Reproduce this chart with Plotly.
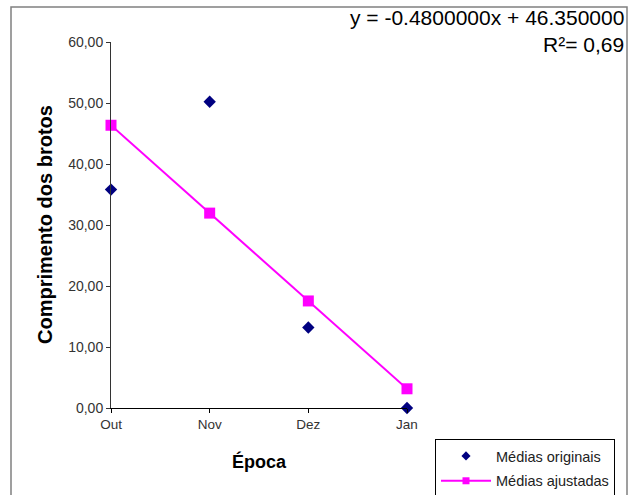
import plotly.graph_objects as go

categories = ["Out", "Nov", "Dez", "Jan"]
medias_originais = [35.8, 50.2, 13.2, 0.0]
medias_ajustadas = [46.35, 31.95, 17.55, 3.15]
y_ticks = [0, 10, 20, 30, 40, 50, 60]
equation_text = "y = -0.4800000x + 46.350000"
r2_text = "R²= 0,69"

W, H = 637, 495
L, R, T, B = 111, 230, 42, 87
pw, ph = W - L - R, H - T - B

def px(x):
    return (x - L) / pw

def py(y):
    return (H - B - y) / ph

FONT = "Liberation Sans, Arial, sans-serif"
NAVY = "#000080"
MAGENTA = "#FF00FF"

fig = go.Figure()
fig.add_trace(go.Scatter(
    x=categories, y=medias_originais, mode="markers", name="Médias originais",
    marker=dict(symbol="diamond", size=9.5, color=NAVY),
    cliponaxis=False, showlegend=False,
))
fig.add_trace(go.Scatter(
    x=categories, y=medias_ajustadas, mode="lines+markers", name="Médias ajustadas",
    marker=dict(symbol="square", size=11, color=MAGENTA),
    line=dict(color=MAGENTA, width=2),
    cliponaxis=False, showlegend=False,
))
# legend entries (smaller legend symbols as in the reference)
fig.add_trace(go.Scatter(
    x=[None], y=[None], mode="markers", name="Médias originais",
    marker=dict(symbol="diamond", size=7, color=NAVY), legendgroup="a",
))
fig.add_trace(go.Scatter(
    x=[None], y=[None], mode="lines+markers", name="Médias ajustadas",
    marker=dict(symbol="square", size=7, color=MAGENTA),
    line=dict(color=MAGENTA, width=2), legendgroup="b",
))

fig.update_layout(
    width=W, height=H,
    margin=dict(l=L, r=R, t=T, b=B, autoexpand=False),
    paper_bgcolor="white", plot_bgcolor="white",
    separators=",.",
    font=dict(family=FONT, color="#333333", size=13),
    showlegend=True,
    legend=dict(
        x=px(435), y=py(439), xanchor="left", yanchor="top",
        bordercolor="black", borderwidth=1, bgcolor="white",
        font=dict(size=14.5, color="#222222", family=FONT),
        itemwidth=50, traceorder="grouped", tracegroupgap=3,
        itemsizing="trace",
    ),
    xaxis=dict(
        type="category", categoryorder="array", categoryarray=categories,
        range=[0, 3], showgrid=False, zeroline=False,
        showline=True, linecolor="black", linewidth=1,
        ticks="outside", ticklen=4, tickcolor="black",
        tickfont=dict(size=13.5, color="#333333"), automargin=False,
    ),
    yaxis=dict(
        range=[0, 60], tickvals=y_ticks, tickformat=".2f",
        showgrid=False, zeroline=False,
        showline=True, linecolor="#333333", linewidth=1,
        ticks="outside", ticklen=4, tickcolor="#333333",
        tickfont=dict(size=14, color="#333333"), automargin=False,
    ),
    shapes=[dict(
        type="rect", xref="paper", yref="paper",
        x0=px(11), x1=px(627), y0=py(7), y1=py(520),
        line=dict(color="#808080", width=1.5), fillcolor="rgba(0,0,0,0)",
        layer="below",
    )],
    annotations=[
        dict(text="Comprimento dos brotos", xref="paper", yref="paper",
             x=px(45), y=py(225), textangle=-90, showarrow=False,
             xanchor="center", yanchor="middle",
             font=dict(size=20, color="black", family=FONT, weight="bold")),
        dict(text="Época", xref="paper", yref="paper",
             x=px(259), y=py(461), showarrow=False,
             xanchor="center", yanchor="middle",
             font=dict(size=18, color="black", family=FONT, weight="bold")),
        dict(text=equation_text, xref="paper", yref="paper",
             x=px(626), y=py(17), showarrow=False,
             xanchor="right", yanchor="middle",
             font=dict(size=21, color="black", family=FONT)),
        dict(text=r2_text, xref="paper", yref="paper",
             x=px(626), y=py(44), showarrow=False,
             xanchor="right", yanchor="middle",
             font=dict(size=21, color="black", family=FONT)),
    ],
)

fig.write_html("out.html", post_script="document.body.style.margin='0';",
               config={"displayModeBar": False})
